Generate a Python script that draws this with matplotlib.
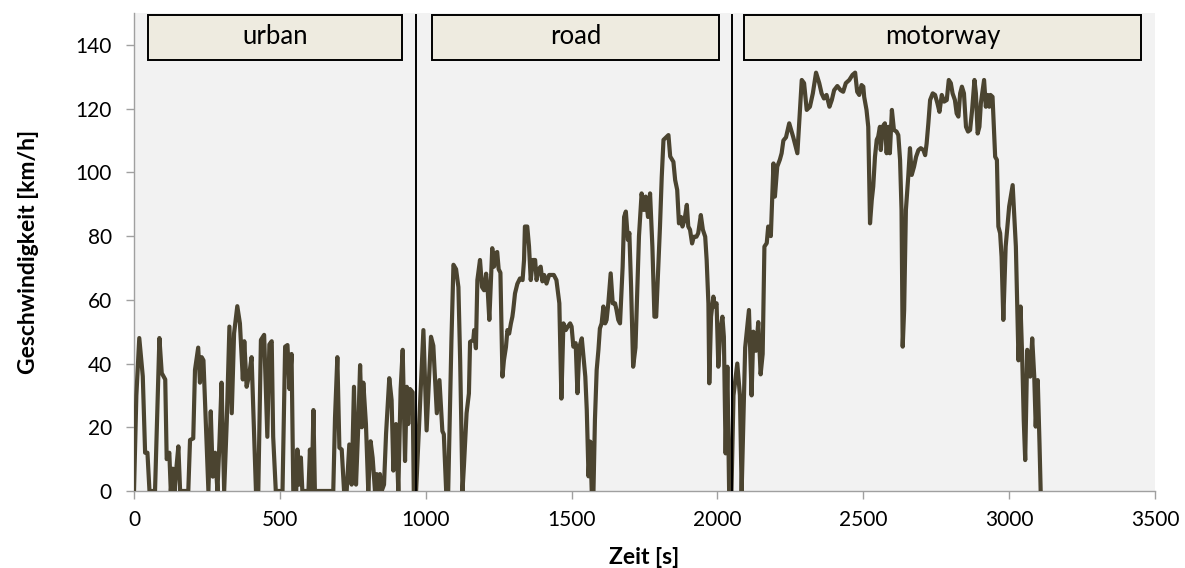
import matplotlib
matplotlib.use("Agg")
import matplotlib.pyplot as plt
from matplotlib.patches import Rectangle

# ---------------- data ----------------
time_s = [
    0, 8, 18, 30, 38, 46, 53, 72, 87, 95, 107, 112, 121, 126, 133, 139, 145, 152, 158, 186,
    192, 203, 209, 220, 226, 232, 238, 255, 263, 270, 278, 286, 293, 300, 309, 318, 327, 335, 343, 354,
    363, 373, 378, 386, 395, 403, 411, 418, 426, 435, 446, 452, 457, 464, 472, 477, 486, 509, 518, 526,
    533, 540, 546, 556, 560, 566, 572, 577, 598, 603, 609, 615, 620, 683, 689, 697, 704, 712, 720, 729,
    738, 746, 754, 761, 769, 775, 781, 786, 795, 803, 811, 818, 826, 832, 837, 843, 849, 857, 864, 875,
    883, 889, 898, 906, 914, 921, 929, 935, 940, 946, 955, 959,
    967, 992, 1003, 1018, 1026, 1038, 1047, 1057, 1062, 1070, 1077, 1088, 1095, 1104, 1112, 1118, 1126, 1131,
    1140, 1148, 1152, 1163, 1166, 1172, 1177, 1186, 1193, 1200, 1207, 1213, 1218, 1223, 1228, 1234, 1239, 1245,
    1250, 1256, 1263, 1268, 1275, 1280, 1286, 1292, 1297, 1300, 1306, 1314, 1323, 1332, 1337, 1340, 1348, 1354,
    1360, 1367, 1375, 1380, 1387, 1394, 1400, 1406, 1414, 1423, 1431, 1439, 1448, 1458, 1465, 1472, 1480, 1487,
    1495, 1500, 1506, 1514, 1520, 1527, 1535, 1541, 1547, 1552, 1558, 1564, 1569, 1575, 1580, 1586, 1592, 1597,
    1603, 1609, 1615, 1620, 1626, 1634, 1641, 1649, 1654, 1660, 1666, 1675, 1680, 1686, 1693, 1698, 1704, 1711,
    1719, 1725, 1731, 1740, 1748, 1754, 1762, 1769, 1777, 1784, 1790, 1798, 1803, 1809, 1815, 1832, 1838, 1849,
    1855, 1862, 1868, 1875, 1880, 1887, 1895, 1900, 1906, 1913, 1919, 1928, 1934, 1943, 1950, 1958, 1963, 1969,
    1972, 1978, 1986, 1991, 1997, 2003, 2010, 2017, 2022, 2028, 2034, 2040, 2048,
    2055, 2068, 2077, 2083, 2095, 2108, 2117, 2123, 2132, 2140, 2148, 2155, 2161, 2169, 2174, 2183, 2192, 2197,
    2205, 2214, 2220, 2226, 2235, 2246, 2260, 2274, 2289, 2297, 2306, 2317, 2327, 2338, 2349, 2357, 2365, 2374,
    2384, 2392, 2400, 2411, 2422, 2431, 2440, 2452, 2463, 2472, 2479, 2486, 2494, 2500, 2503, 2511, 2517, 2523,
    2529, 2534, 2540, 2546, 2551, 2557, 2560, 2566, 2574, 2580, 2586, 2591, 2598, 2605, 2614, 2620, 2626, 2631,
    2635, 2640, 2646, 2654, 2660, 2666, 2674, 2681, 2689, 2697, 2706, 2712, 2717, 2723, 2729, 2738, 2746, 2754,
    2761, 2769, 2777, 2786, 2793, 2800, 2806, 2814, 2820, 2826, 2832, 2838, 2845, 2852, 2859, 2866, 2873, 2881,
    2886, 2892, 2898, 2903, 2914, 2920, 2926, 2932, 2936, 2943, 2952, 2958, 2963, 2969, 2974, 2980, 2988, 3000,
    3012, 3023, 3032, 3039, 3045, 3050, 3055, 3062, 3072, 3079, 3086, 3091, 3098, 3104, 3108,
]

speed_kmh = [
    0, 30, 48, 36, 12, 12, 0, 0, 48, 37, 35, 10, 12, 0, 7, 0, 7, 14, 0, 0,
    16, 16.5, 38, 45, 34, 42, 41, 0, 25, 4.5, 12, 0, 15.6, 34, 0, 22, 51.6, 24.4, 49.5, 58,
    52.6, 35, 47, 32.7, 36.6, 42, 20, 0, 0, 47.4, 49, 32, 17, 46, 47, 17, 0, 0, 45.3, 45.8,
    32, 43, 0, 0, 13, 2, 10.5, 0, 0, 13, 0, 25.4, 0, 0, 23, 42, 13.6, 13, 0, 0,
    14.6, 2, 32.7, 2, 21, 39.5, 20, 34, 21, 0, 15.6, 10.4, 0, 5.3, 0, 5.3, 0, 2, 18, 35.4,
    28.5, 6.4, 21, 0, 32, 44.3, 9.4, 32.7, 21, 32, 31, 0,
    0, 50.5, 19, 48.4, 45.6, 24.4, 34.8, 18.8, 17.8, 0, 0, 47, 71, 69.6, 64, 41, 0, 8,
    24.4, 30.6, 46.8, 47.4, 50.5, 44.8, 66.2, 72.5, 64, 63, 68.2, 62, 53.7, 65, 76.2, 70.4, 74.6, 75,
    69.6, 68.5, 35.9, 41, 45.2, 50.5, 49.4, 52.6, 54.7, 56.8, 62, 65, 66.7, 66.2, 72.5, 83, 83, 76.8,
    66.2, 72.5, 72.5, 66.2, 69.6, 70.4, 65.8, 67.8, 65.1, 67.8, 67.8, 67.8, 66.2, 58.9, 29, 52.6, 50.5, 51.6,
    52.6, 51.6, 45.3, 46.4, 30.7, 45.3, 47.9, 42, 35.9, 25.5, 4.6, 15.5, 0, 0, 22.3, 38, 44.3, 51,
    52.6, 57.9, 52.6, 53.7, 59, 68.3, 58.9, 58.9, 56.8, 53.7, 52.6, 70.4, 86, 87.7, 78.8, 81, 64, 39,
    45, 62, 80, 93.4, 88.2, 92.4, 86, 93.4, 76.6, 54.7, 54.7, 72.5, 83, 98.5, 110.2, 111.7, 105, 103.3,
    97.6, 94.5, 84, 86, 83, 85, 89.8, 83, 82, 77.7, 79.8, 79.8, 80.9, 86.6, 82, 79.8, 72.5, 58.8,
    33.8, 54.7, 61, 57.9, 58.9, 39, 50.6, 54.7, 48.4, 11.8, 39, 0, 0,
    30, 40, 30, 0, 45, 56.8, 30, 50, 44, 53, 36.6, 43, 76.7, 77.8, 83, 80, 102.8, 92.4,
    101.8, 104, 106, 110, 111, 115.4, 111, 106, 129, 128, 119.6, 120.6, 124.8, 131.3, 128, 124.8, 123.2, 124.3,
    120.6, 122.7, 125.8, 127.1, 125.8, 125.3, 128, 129, 130.6, 131.3, 125.3, 124.3, 127.4, 126.9, 123.7, 119.6, 114.3, 84,
    91.3, 95.5, 104.9, 110.2, 111.2, 114.3, 107, 114.3, 115.4, 106, 114.3, 106, 119.6, 113.3, 112.8, 111.7, 103.9, 88.2,
    45.3, 56.8, 88.2, 98.6, 107.6, 99.2, 101.8, 104.9, 107, 107.6, 107, 105.4, 109, 115.4, 122.7, 124.8, 124.3, 121.7,
    119, 124.3, 122.2, 122.7, 129, 128, 124.8, 122.7, 118.5, 117.5, 124.8, 126.9, 124.8, 114.3, 112.8, 113.3, 119.6, 129,
    124.8, 112.2, 114.3, 121.7, 129, 120.6, 124.3, 120.6, 124.3, 123.7, 104.9, 103.9, 83, 80.9, 73.5, 53.7, 76.7, 89.3,
    96, 76.7, 41, 57.9, 41, 22.2, 9.7, 44.3, 35.9, 47.9, 35.9, 20.2, 34.8, 14.9, 0,
]

section_labels = ["urban", "road", "motorway"]
section_boundaries = [967, 2051]

x_ticks = [0, 500, 1000, 1500, 2000, 2500, 3000, 3500]
y_ticks = [0, 20, 40, 60, 80, 100, 120, 140]

# ---------------- layout / style ----------------
plt.rcParams["font.family"] = ["Lato", "DejaVu Sans"]

fig = plt.figure(figsize=(11.85, 5.68), dpi=100)
ax = fig.add_axes([0.1131, 0.1356, 0.8616, 0.8414])
ax.set_facecolor("#F2F2F2")

ax.plot(time_s, speed_kmh, color="#4B4430", lw=3.0, solid_joinstyle="round", zorder=3)

for b in section_boundaries:
    ax.plot([b, b], [0, 149.4], color="black", lw=1.4, zorder=4)

box_extents = [(48, 919), (1022, 2005), (2091, 3452)]
for (x0, x1), lab in zip(box_extents, section_labels):
    ax.add_patch(Rectangle((x0, 135.3), x1 - x0, 14.1, facecolor="#EEEBE0",
                           edgecolor="black", lw=1.4, zorder=5))
    ax.text((x0 + x1) / 2, 142.6, lab, ha="center", va="center",
            fontsize=18.5, color="black", zorder=6)

ax.set_xlim(0, 3500)
ax.set_ylim(0, 150)
ax.set_xticks(x_ticks)
ax.set_yticks(y_ticks)
ax.tick_params(axis="both", direction="out", length=6, width=1, color="#A0A0A0",
               labelsize=15, labelcolor="black")
ax.tick_params(axis="y", pad=10)
ax.tick_params(axis="x", pad=8)

for side in ["top", "right"]:
    ax.spines[side].set_visible(False)
for side in ["left", "bottom"]:
    ax.spines[side].set_color("#A0A0A0")
    ax.spines[side].set_linewidth(1)

ax.set_xlabel("Zeit [s]", fontsize=16.5, fontweight="bold", labelpad=12)
ax.set_ylabel("Geschwindigkeit [km/h]", fontsize=16.5, fontweight="bold", labelpad=26)

fig.savefig("out.png", dpi=100)
